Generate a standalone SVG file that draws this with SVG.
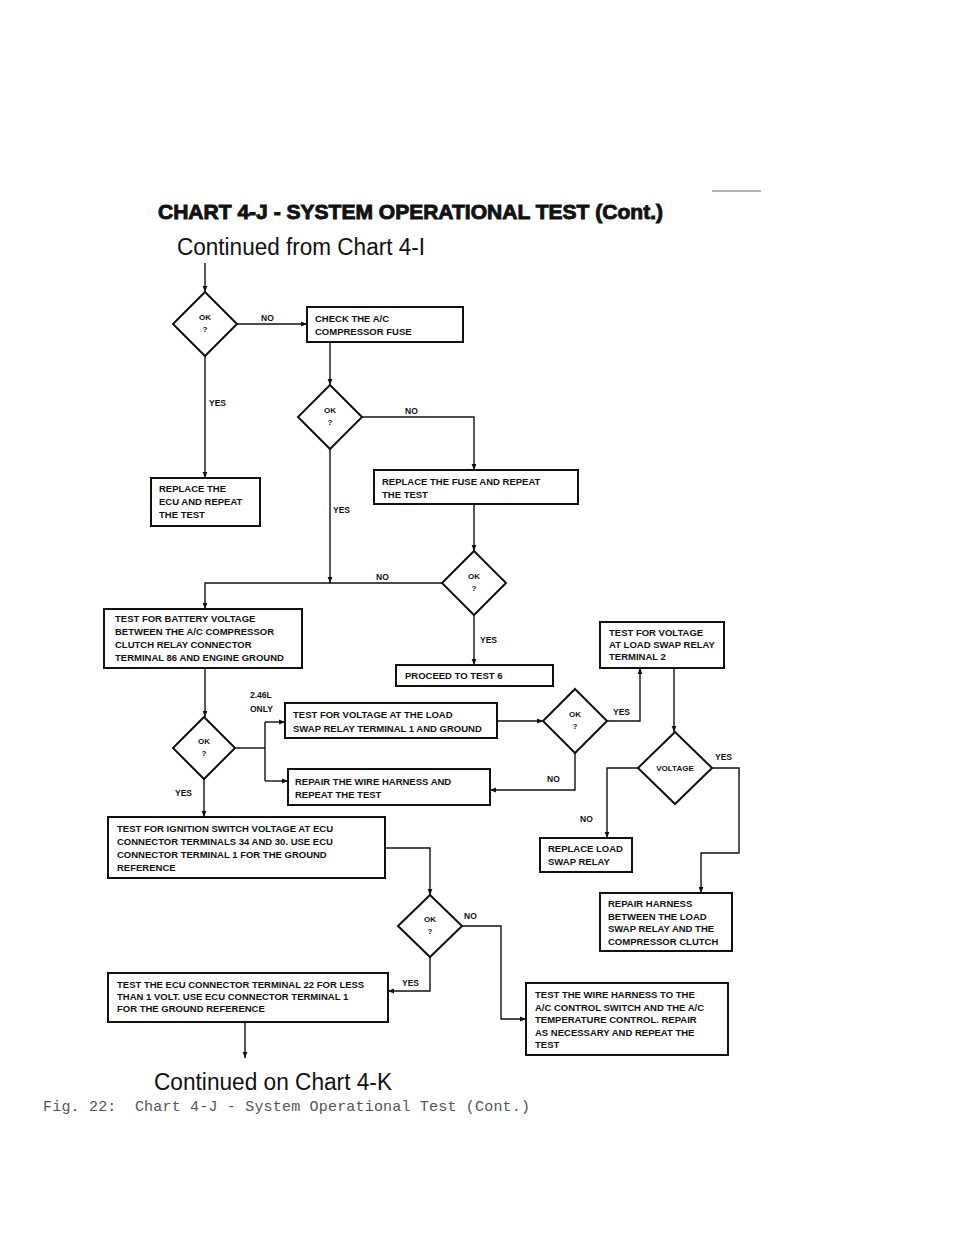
<svg xmlns="http://www.w3.org/2000/svg" width="960" height="1242" viewBox="0 0 960 1242">
<style>
.bg{fill:#fff}
.box{fill:#fff;stroke:#111;stroke-width:2}
.dia{fill:#fff;stroke:#111;stroke-width:2}
.c{fill:none;stroke:#111;stroke-width:1.4}
.t{font-family:"Liberation Sans",Arial,sans-serif;font-size:9.5px;font-weight:bold;fill:#111}
.l{font-family:"Liberation Sans",Arial,sans-serif;font-size:8.5px;font-weight:bold;fill:#111}
.d{font-family:"Liberation Sans",Arial,sans-serif;font-size:8px;font-weight:bold;fill:#111;text-anchor:middle}
.h{font-family:"Liberation Sans",Arial,sans-serif;fill:#111}
</style>
<defs>
<marker id="ar" viewBox="0 0 10 10" refX="10" refY="5" markerWidth="6" markerHeight="6" orient="auto" markerUnits="userSpaceOnUse">
<path d="M0,1 L10,5 L0,9 z" fill="#111"/>
</marker>
</defs>
<rect class="bg" x="0" y="0" width="960" height="1242"/>
<line x1="712" y1="191" x2="761" y2="191" stroke="#666" stroke-width="1"/>
<g id="title">
<text class="h" x="158" y="219" font-size="20" font-weight="900" stroke="#111" stroke-width="0.9" textLength="505" lengthAdjust="spacingAndGlyphs">CHART 4-J  -  SYSTEM OPERATIONAL TEST (Cont.)</text>
<text class="h" x="177" y="255" font-size="23" textLength="248" lengthAdjust="spacingAndGlyphs">Continued from Chart 4-I</text>
</g>
<g id="connectors">
<path class="c" d="M205,263 V292" marker-end="url(#ar)"/>
<path class="c" d="M237,324 H307" marker-end="url(#ar)"/>
<path class="c" d="M205,356 V478" marker-end="url(#ar)"/>
<path class="c" d="M330,342 V385" marker-end="url(#ar)"/>
<path class="c" d="M362,417 H474 V470" marker-end="url(#ar)"/>
<path class="c" d="M474,504 V551" marker-end="url(#ar)"/>
<path class="c" d="M330,449 V583" marker-end="url(#ar)"/>
<path class="c" d="M442,583 H205 V609" marker-end="url(#ar)"/>
<path class="c" d="M474,615 V665" marker-end="url(#ar)"/>
<path class="c" d="M205,668 V717" marker-end="url(#ar)"/>
<path class="c" d="M235,748 H265"/>
<path class="c" d="M265,722 V781"/>
<path class="c" d="M265,722 H285" marker-end="url(#ar)"/>
<path class="c" d="M265,781 H288" marker-end="url(#ar)"/>
<path class="c" d="M497,721 H543" marker-end="url(#ar)"/>
<path class="c" d="M575,753 V790 H490" marker-end="url(#ar)"/>
<path class="c" d="M607,721 H640 V668" marker-end="url(#ar)"/>
<path class="c" d="M674,668 V732" marker-end="url(#ar)"/>
<path class="c" d="M638,768 H607 V838" marker-end="url(#ar)"/>
<path class="c" d="M712,768 H739 V853 H701 V893" marker-end="url(#ar)"/>
<path class="c" d="M204,779 V817" marker-end="url(#ar)"/>
<path class="c" d="M385,848 H430 V895" marker-end="url(#ar)"/>
<path class="c" d="M462,926 H501 V1019 H526" marker-end="url(#ar)"/>
<path class="c" d="M430,957 V991 H388" marker-end="url(#ar)"/>
<path class="c" d="M245,1022 V1058" marker-end="url(#ar)"/>
<text class="l" x="261" y="321">NO</text>
<text class="l" x="209" y="406">YES</text>
<text class="l" x="405" y="414">NO</text>
<text class="l" x="333" y="513">YES</text>
<text class="l" x="376" y="580">NO</text>
<text class="l" x="480" y="643">YES</text>
<text class="l" x="250" y="698">2.46L</text>
<text class="l" x="250" y="712">ONLY</text>
<text class="l" x="175" y="796">YES</text>
<text class="l" x="547" y="782">NO</text>
<text class="l" x="613" y="715">YES</text>
<text class="l" x="715" y="760">YES</text>
<text class="l" x="580" y="822">NO</text>
<text class="l" x="464" y="919">NO</text>
<text class="l" x="402" y="986">YES</text>
</g>
<g id="ok1">
<polygon class="dia" points="205,292 237,324 205,356 173,324"/>
<text class="d" x="205" y="320">OK</text><text class="d" x="205" y="332">?</text>
</g>
<g id="check-fuse">
<rect class="box" x="307" y="307" width="156" height="35"/>
<text class="t" x="315" y="322">CHECK THE A/C</text>
<text class="t" x="315" y="335">COMPRESSOR FUSE</text>
</g>
<g id="replace-ecu">
<rect class="box" x="151" y="478" width="109" height="48"/>
<text class="t" x="159" y="492">REPLACE THE</text>
<text class="t" x="159" y="505">ECU AND REPEAT</text>
<text class="t" x="159" y="518">THE TEST</text>
</g>
<g id="ok2">
<polygon class="dia" points="330,385 362,417 330,449 298,417"/>
<text class="d" x="330" y="413">OK</text><text class="d" x="330" y="425">?</text>
</g>
<g id="replace-fuse">
<rect class="box" x="374" y="470" width="204" height="34"/>
<text class="t" x="382" y="485">REPLACE THE FUSE AND REPEAT</text>
<text class="t" x="382" y="498">THE TEST</text>
</g>
<g id="ok3">
<polygon class="dia" points="474,551 506,583 474,615 442,583"/>
<text class="d" x="474" y="579">OK</text><text class="d" x="474" y="591">?</text>
</g>
<g id="battery-test">
<rect class="box" x="104" y="609" width="198" height="59"/>
<text class="t" x="115" y="622">TEST FOR BATTERY VOLTAGE</text>
<text class="t" x="115" y="635">BETWEEN THE A/C COMPRESSOR</text>
<text class="t" x="115" y="648">CLUTCH RELAY CONNECTOR</text>
<text class="t" x="115" y="661">TERMINAL 86 AND ENGINE GROUND</text>
</g>
<g id="proceed">
<rect class="box" x="396" y="665" width="157" height="21"/>
<text class="t" x="405" y="679">PROCEED TO TEST 6</text>
</g>
<g id="test-terminal2">
<rect class="box" x="600" y="622" width="124" height="46"/>
<text class="t" x="609" y="636">TEST FOR VOLTAGE</text>
<text class="t" x="609" y="648">AT LOAD SWAP RELAY</text>
<text class="t" x="609" y="660">TERMINAL 2</text>
</g>
<g id="ok4">
<polygon class="dia" points="204,717 235,748 204,779 173,748"/>
<text class="d" x="204" y="744">OK</text><text class="d" x="204" y="756">?</text>
</g>
<g id="test-terminal1">
<rect class="box" x="285" y="703" width="212" height="35"/>
<text class="t" x="293" y="718">TEST FOR VOLTAGE AT THE LOAD</text>
<text class="t" x="293" y="732">SWAP RELAY TERMINAL 1 AND GROUND</text>
</g>
<g id="repair-wire">
<rect class="box" x="288" y="769" width="202" height="36"/>
<text class="t" x="295" y="785">REPAIR THE WIRE HARNESS AND</text>
<text class="t" x="295" y="798">REPEAT THE TEST</text>
</g>
<g id="ok5">
<polygon class="dia" points="575,689 607,721 575,753 543,721"/>
<text class="d" x="575" y="717">OK</text><text class="d" x="575" y="729">?</text>
</g>
<g id="voltage">
<polygon class="dia" points="675,732 712,768 675,804 638,768"/>
<text class="d" x="675" y="771">VOLTAGE</text>
</g>
<g id="replace-relay">
<rect class="box" x="540" y="838" width="92" height="34"/>
<text class="t" x="548" y="852">REPLACE LOAD</text>
<text class="t" x="548" y="865">SWAP RELAY</text>
</g>
<g id="repair-harness">
<rect class="box" x="600" y="893" width="132" height="58"/>
<text class="t" x="608" y="907">REPAIR HARNESS</text>
<text class="t" x="608" y="920">BETWEEN THE LOAD</text>
<text class="t" x="608" y="932">SWAP RELAY AND THE</text>
<text class="t" x="608" y="945">COMPRESSOR CLUTCH</text>
</g>
<g id="ignition-test">
<rect class="box" x="108" y="817" width="277" height="61"/>
<text class="t" x="117" y="832">TEST FOR IGNITION SWITCH VOLTAGE AT ECU</text>
<text class="t" x="117" y="845">CONNECTOR TERMINALS 34 AND 30. USE ECU</text>
<text class="t" x="117" y="858">CONNECTOR TERMINAL 1 FOR THE GROUND</text>
<text class="t" x="117" y="871">REFERENCE</text>
</g>
<g id="ok6">
<polygon class="dia" points="430,895 462,926 430,957 398,926"/>
<text class="d" x="430" y="922">OK</text><text class="d" x="430" y="934">?</text>
</g>
<g id="ecu-terminal22">
<rect class="box" x="108" y="973" width="280" height="49"/>
<text class="t" x="117" y="988">TEST THE ECU CONNECTOR TERMINAL 22 FOR LESS</text>
<text class="t" x="117" y="1000">THAN 1 VOLT. USE ECU CONNECTOR TERMINAL 1</text>
<text class="t" x="117" y="1012">FOR THE GROUND REFERENCE</text>
</g>
<g id="wire-harness-test">
<rect class="box" x="526" y="983" width="202" height="72"/>
<text class="t" x="535" y="998">TEST THE WIRE HARNESS TO THE</text>
<text class="t" x="535" y="1011">A/C CONTROL SWITCH AND THE A/C</text>
<text class="t" x="535" y="1023">TEMPERATURE CONTROL. REPAIR</text>
<text class="t" x="535" y="1036">AS NECESSARY AND REPEAT THE</text>
<text class="t" x="535" y="1048">TEST</text>
</g>
<g id="footer">
<text class="h" x="154" y="1090" font-size="23" textLength="238" lengthAdjust="spacingAndGlyphs">Continued on Chart 4-K</text>
<text x="43" y="1111" font-family="'Liberation Mono','Courier New',monospace" font-size="15" fill="#555" textLength="487" xml:space="preserve">Fig. 22:  Chart 4-J - System Operational Test (Cont.)</text>
</g>
</svg>
